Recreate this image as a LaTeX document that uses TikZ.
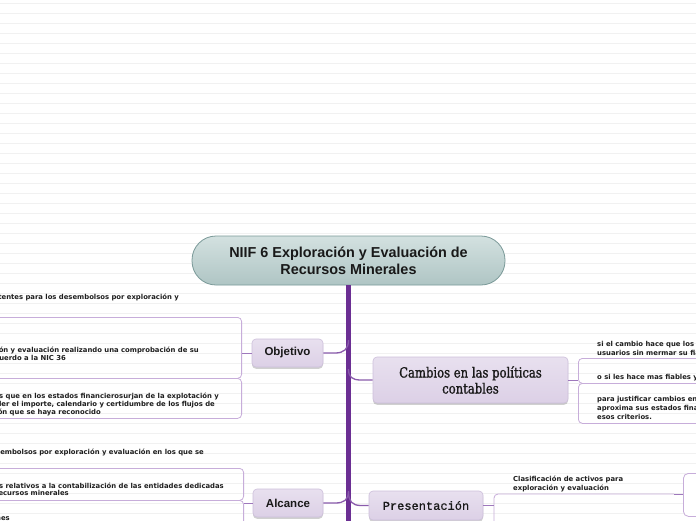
\documentclass[tikz,border=0pt]{standalone}
\usepackage{fontspec}
\setmainfont{Liberation Sans}
\newfontfamily\itemfont{DejaVu Sans}
\newfontfamily\slabfont[FakeStretch=0.83,FakeBold=1.2]{DejaVu Serif}
\newfontfamily\monofont[FakeBold=0.8]{Liberation Mono}
\usetikzlibrary{shadows}
\definecolor{trunkc}{HTML}{6B2F93}
\definecolor{branchc}{HTML}{8A5BAC}
\definecolor{linkc}{HTML}{9E78BC}
\definecolor{bracketc}{HTML}{C7ADDA}
\definecolor{subTop}{HTML}{E8E0EF}
\definecolor{subBot}{HTML}{DCD0E6}
\definecolor{subdraw}{HTML}{CDBFDB}
\definecolor{mainTop}{HTML}{D3E1E0}
\definecolor{mainBot}{HTML}{AFC5C4}
\definecolor{maindraw}{HTML}{7A9998}
\definecolor{ruled}{HTML}{F1F1F1}
\definecolor{itemtxt}{HTML}{1E1E1E}
\tikzset{
  mainnode/.style={rounded corners=24pt, draw=maindraw, line width=0.8pt,
    top color=mainTop, bottom color=mainBot, minimum width=313pt, minimum height=49pt,
    inner sep=0pt, align=center, text=black!90,
    font=\fontsize{14.4}{17}\selectfont\bfseries},
  subnode/.style={rounded corners=4pt, draw=subdraw, line width=0.6pt,
    top color=subTop, bottom color=subBot, inner sep=0pt, text=black!90,
    drop shadow={shadow xshift=0pt, shadow yshift=-1.8pt, opacity=0.3, fill=black!60}},
  itembox/.style={draw=bracketc, line width=0.8pt, rounded corners=4pt, inner sep=0pt},
  itemtext/.style={font=\itemfont\bfseries\fontsize{6.85}{9}\selectfont, text=itemtxt, inner sep=0pt},
  branch/.style={draw=branchc, line width=1.3pt},
  link/.style={draw=linkc, line width=1pt},
  bracketline/.style={draw=bracketc, line width=0.8pt, rounded corners=4pt},
}
\begin{document}
\begin{tikzpicture}[x=1pt,y=-1pt]
\useasboundingbox (0,0) rectangle (696,520);
\clip (0,0) rectangle (696,520);
\fill[white] (0,0) rectangle (696,520);
\foreach \i in {0,...,51} \draw[ruled, line width=0.8pt] (0,3.5+10*\i) -- (696,3.5+10*\i);

% central topic and trunk
\node[mainnode] (main) at (348.5,260.5) {NIIF 6 Exploración y Evaluación de\\Recursos Minerales};
\coordinate (trunkend) at (348.5,530);
\draw[trunkc, line width=5pt] (main.south) -- (trunkend);

% main topics
\node[subnode, minimum width=71pt, minimum height=28pt, font=\fontsize{11.5}{13}\selectfont\bfseries] (obj) at (287.5,353) {Objetivo};
\node[subnode, minimum width=70pt, minimum height=28pt, font=\fontsize{11.5}{13}\selectfont\bfseries] (alc) at (288,503) {Alcance};
\node[subnode, minimum width=195pt, minimum height=46pt, align=center, font=\slabfont\fontsize{14}{16}\selectfont] (cam) at (470.5,380) {Cambios en las políticas\\contables};
\node[subnode, minimum width=114pt, minimum height=29pt, font=\monofont\fontsize{12}{14}\selectfont] (pre) at (426,505.5) {Presentación};

% branches from trunk
\coordinate (tObj) at (348.5,340);
\coordinate (tAlc) at (348.5,491);
\coordinate (tCam) at (348.5,369);
\coordinate (tPre) at (348.5,492);
\draw[branch] (obj.east) -- (335,353) .. controls +(9,0) and +(0,9) .. (tObj);
\draw[branch] (alc.east) -- (335,503) .. controls +(9,0) and +(0,9) .. (tAlc);
\draw[branch] (cam.west) -- (361,380) .. controls +(-9,0) and +(0,8) .. (tCam);
\draw[branch] (pre.west) -- (361,505.5) .. controls +(-9,0) and +(0,9) .. (tPre);

% Objetivo subtopics
\node[itembox, anchor=north east, minimum width=280pt, minimum height=61pt] (objB) at (242,317) {};
\node[itembox, anchor=north east, minimum width=280pt, minimum height=40pt] (objC) at (242,378) {};
\draw[link] (obj.west) -- (obj.west -| objB.east);
\node[itemtext, anchor=base east] (o1) at (179,299) {prácticas contables existentes para los desembolsos por exploración y};
\node[itemtext, anchor=base east] (o2a) at (199,352) {activos para exploración y evaluación realizando una comprobación de su};
\node[itemtext, anchor=base east] (o2b) at (66,360) {valor de acuerdo a la NIC 36};
\node[itemtext, anchor=base east] (o3a) at (219,398.5) {los importes que en los estados financierosurjan de la explotación y};
\node[itemtext, anchor=base east] (o3b) at (215,406.5) {comprender el importe, calendario y certidumbre de los flujos de};
\node[itemtext, anchor=base east] (o3c) at (101,414.5) {exploración y evaluación que se haya reconocido};

% Alcance subtopics
\node[itembox, anchor=north east, minimum width=280pt, minimum height=32pt] (alcB) at (244,468) {};
\node[itembox, anchor=north east, minimum width=280pt, minimum height=50pt] (alcC) at (244,500) {};
\draw[link] (alc.west) -- (alc.west -| alcC.east);
\node[itemtext, anchor=base east] (a1) at (204,454) {a los desembolsos por exploración y evaluación en los que se};
\node[itemtext, anchor=base east] (a2a) at (224,488) {otros aspectos relativos a la contabilización de las entidades dedicadas};
\node[itemtext, anchor=base east] (a2b) at (69,495.5) {evaluación de recursos minerales};
\node[itemtext, anchor=base east] (a3) at (10,520.5) {excepciones};

% Cambios subtopics
\node[itembox, anchor=north west, minimum width=200pt, minimum height=25pt] (camB) at (578,358) {};
\node[itembox, anchor=north west, minimum width=200pt, minimum height=40pt] (camC) at (578,383) {};
\draw[link] (cam.east) -- (cam.east -| camB.west);
\node[itemtext, anchor=base west] (c1a) at (597,346) {si el cambio hace que los estados};
\node[itemtext, anchor=base west] (c1b) at (597,355) {usuarios sin mermar su fiabilidad};
\node[itemtext, anchor=base west] (c2) at (597,379) {o si les hace mas fiables y};
\node[itemtext, anchor=base west] (c3a) at (597,401) {para justificar cambios en};
\node[itemtext, anchor=base west] (c3b) at (597,410) {aproxima sus estados financieros};
\node[itemtext, anchor=base west] (c3c) at (597,419) {esos criterios.};

% Presentacion subtopics
\node[itembox, anchor=north west, minimum width=80pt, minimum height=43pt, fill=white, rounded corners=5pt] (cls) at (683,473) {};
\coordinate (presBot) at (494,530);
\coordinate (presMid) at (674,494);
\draw[bracketline] (presBot) -- (494,494) -- (presMid);
\draw[link] (presMid) -- (presMid -| cls.west);
\draw[link] (pre.east) -- (494,505.5);
\node[itemtext, anchor=base west] (p1a) at (513,481.5) {Clasificación de activos para};
\node[itemtext, anchor=base west] (p1b) at (513,490.5) {exploración y evaluación};
\end{tikzpicture}
\end{document}
